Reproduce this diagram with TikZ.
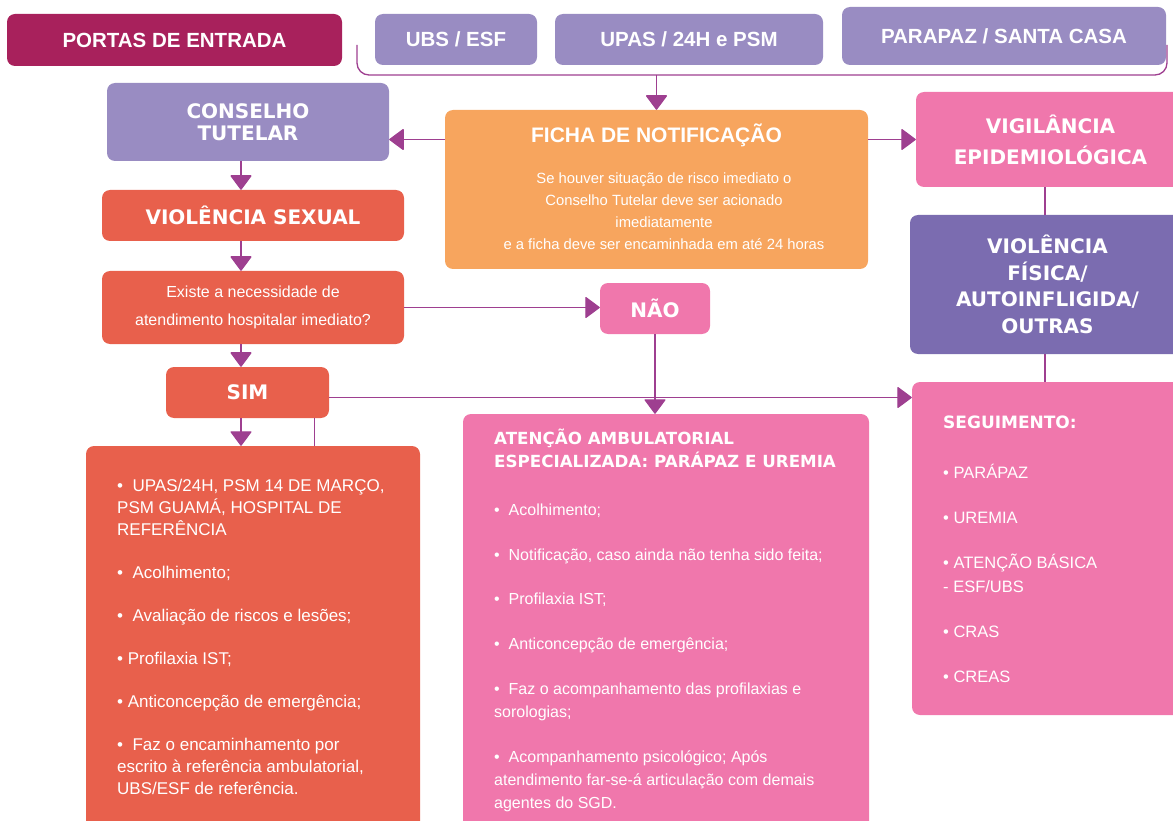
\documentclass[tikz,border=0pt]{standalone}
\usepackage{fontspec}
\setmainfont{Liberation Sans}
\newfontfamily\headfont{DejaVu Sans}
\usetikzlibrary{arrows.meta,positioning}
\definecolor{portas}{HTML}{A8215C}
\definecolor{lilas}{HTML}{998CC2}
\definecolor{coral}{HTML}{E8604C}
\definecolor{laranja}{HTML}{F7A55E}
\definecolor{rosa}{HTML}{F077AC}
\definecolor{roxo}{HTML}{7B6CB0}
\definecolor{seta}{HTML}{9E3F90}

\begin{document}
\begin{tikzpicture}[x=1pt,y=-1pt]
\tikzstyle{box} = [rounded corners=8pt, inner sep=0pt, text=white, align=center]
\tikzstyle{entrada} = [box, font=\bfseries\fontsize{20.5}{24}\selectfont]
\tikzstyle{titulo} = [box, font=\headfont\bfseries\fontsize{20}{22}\selectfont]
\tikzstyle{lista} = [inner sep=0pt, text=white, align=left, anchor=north west]
\tikzstyle{arrow} = [draw=seta, line width=1.3pt, -{Triangle[width=22pt,length=15pt,round]}]
\tikzstyle{line} = [draw=seta, line width=1.3pt]
\useasboundingbox (0,0) rectangle (1173,821);
% portas de entrada
\node [entrada, fill=portas, minimum width=335pt, minimum height=52pt] (portas) at (174.5,40) {PORTAS DE ENTRADA};
\node [entrada, fill=lilas, minimum width=162pt, minimum height=51pt] (ubs) at (456,39.5) {UBS / ESF};
\node [entrada, fill=lilas, minimum width=268pt, minimum height=51pt] (upas) at (689,39.5) {UPAS / 24H e PSM};
\node [entrada, fill=lilas, minimum width=324pt, minimum height=58pt] (parapaz) at (1004,36) {PARAPAZ / SANTA CASA};
% coluna esquerda
\node [titulo, fill=lilas, minimum width=282pt, minimum height=78pt] (conselho) at (248,122) {CONSELHO\\TUTELAR};
\node [titulo, fill=coral, minimum width=302pt, minimum height=51pt] (sexual) at (253,215.5) {VIOLÊNCIA SEXUAL};
\node [box, fill=coral, minimum width=302pt, minimum height=73pt, font=\fontsize{16}{28}\selectfont] (existe) at (253,307.5) {Existe a necessidade de\\atendimento hospitalar imediato?};
\node [titulo, fill=coral, minimum width=163pt, minimum height=51pt] (sim) at (247.5,392.5) {SIM};
\node [box, fill=coral, minimum width=334pt, minimum height=389pt] (hospital) at (253,640.5) {};
\node [lista, font=\fontsize{17}{22}\selectfont] (hosptexto) at (117,478.5) {%
•\ \ UPAS/24H, PSM 14 DE MARÇO,\\PSM GUAMÁ, HOSPITAL DE\\REFERÊNCIA\\[21pt]
•\ \ Acolhimento;\\[21pt]
•\ \ Avaliação de riscos e lesões;\\[21pt]
• Profilaxia IST;\\[21pt]
• Anticoncepção de emergência;\\[21pt]
•\ \ Faz o encaminhamento por\\escrito à referência ambulatorial,\\UBS/ESF de referência.};
% centro
\node [box, fill=laranja, minimum width=423pt, minimum height=159pt] (ficha) at (656.5,189.5) {};
\node [inner sep=0pt, text=white, font=\bfseries\fontsize{21}{24}\selectfont] (fichatitulo) at (656.5,135) {FICHA DE NOTIFICAÇÃO};
\node [inner sep=0pt, text=white, align=center, font=\fontsize{14.8}{22}\selectfont] (fichatexto) at (664,211) {Se houver situação de risco imediato o\\Conselho Tutelar deve ser acionado\\imediatamente\\e a ficha deve ser encaminhada em até 24 horas};
\node [titulo, fill=rosa, minimum width=110pt, minimum height=51pt] (nao) at (655,308.5) {NÃO};
\node [box, fill=rosa, minimum width=406pt, minimum height=421pt] (atencao) at (666,624.5) {};
\node [lista, font=\headfont\bfseries\fontsize{16.7}{23}\selectfont] (atentitulo) at (494,429) {ATENÇÃO AMBULATORIAL\\ESPECIALIZADA: PARÁPAZ E UREMIA};
\node [lista, font=\fontsize{16}{23}\selectfont] (atentexto) at (494,504) {%
•\ \ Acolhimento;\\[21.5pt]
•\ \ Notificação, caso ainda não tenha sido feita;\\[21.5pt]
•\ \ Profilaxia IST;\\[21.5pt]
•\ \ Anticoncepção de emergência;\\[22pt]
•\ \ Faz o acompanhamento das profilaxias e\\sorologias;\\[22.5pt]
•\ \ Acompanhamento psicológico; Após\\atendimento far-se-á articulação com demais\\agentes do SGD.};
% coluna direita
\node [titulo, fill=rosa, minimum width=269pt, minimum height=95pt, font=\headfont\bfseries\fontsize{20}{31}\selectfont] (vig) at (1050.5,139.5) {VIGILÂNCIA\\EPIDEMIOLÓGICA};
\node [titulo, fill=roxo, minimum width=275pt, minimum height=139pt, font=\headfont\bfseries\fontsize{20}{26.7}\selectfont] (fisica) at (1047.5,284.5) {VIOLÊNCIA\\FÍSICA/\\AUTOINFLIGIDA/\\OUTRAS};
\node [box, fill=rosa, minimum width=273pt, minimum height=333pt] (seg) at (1048.5,548.5) {};
\node [lista, font=\headfont\bfseries\fontsize{17}{23}\selectfont] (segtitulo) at (943,416) {SEGUIMENTO:};
\node [lista, font=\fontsize{16.5}{24}\selectfont] (segtexto) at (943,464) {%
• PARÁPAZ\\[21pt]
• UREMIA\\[21pt]
• ATENÇÃO BÁSICA\\- ESF/UBS\\[21pt]
• CRAS\\[21pt]
• CREAS};
% conectores
\coordinate (chave1) at (357,45);
\coordinate (chave2) at (1167,45);
\coordinate (esq) at (241,0);
\coordinate (dir) at (1045,0);
\draw [line, rounded corners=12pt] (chave1) -- (chave1 |- 0,75) -- (chave2 |- 0,75) -- (chave2);
\path (ficha.north |- 0,75) edge [arrow] (ficha.north);
\path (ficha.west |- vig.west) edge [arrow] (conselho.east |- vig.west);
\path (ficha.east |- vig.west) edge [arrow] (vig.west);
\path (conselho.south -| esq) edge [arrow] (sexual.north -| esq);
\path (sexual.south -| esq) edge [arrow] (existe.north -| esq);
\path (existe.south -| esq) edge [arrow] (sim.north -| esq);
\path (sim.south -| esq) edge [arrow] (hospital.north -| esq);
\path ([xshift=67pt]sim.south) edge [line] ([xshift=67pt]sim.south |- hospital.north);
\path (existe.east) edge [arrow] (existe.east -| nao.west);
\path (nao.south) edge [arrow] (nao.south |- atencao.north);
\path ([yshift=-5pt]sim.east) edge [arrow] ([yshift=-5pt]sim.east -| seg.west);
\path (vig.south -| dir) edge [line] (fisica.north -| dir);
\path (fisica.south -| dir) edge [line] (seg.north -| dir);
\end{tikzpicture}
\end{document}
